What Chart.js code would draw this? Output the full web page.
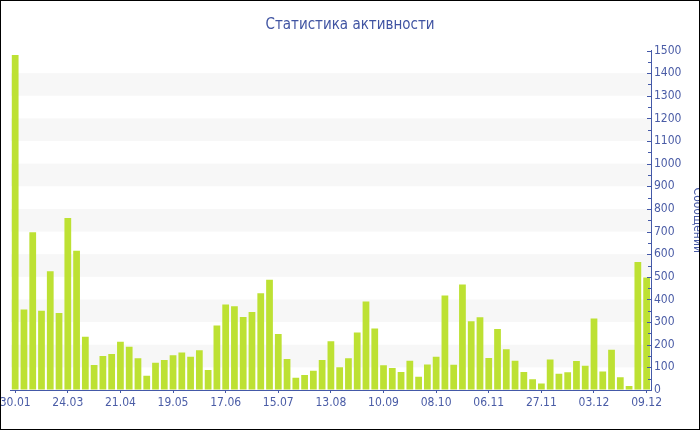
<!DOCTYPE html>
<html><head><meta charset="utf-8">
<script src="https://cdn.jsdelivr.net/npm/chart.js@4"></script>
<style>html,body{margin:0;padding:0;background:#fff}</style>
</head><body>
<canvas id="c" width="700" height="430"></canvas>
<script>
const tickLabels = ['30.01','24.03','21.04','19.05','17.06','15.07','13.08','10.09','08.10','06.11','27.11','03.12','09.12'];
const tickStep = 6;
const messages = [
  1480, 356, 697, 350, 525, 340, 760, 615, 235, 110,
  150, 159, 213, 191, 140, 63, 120, 132, 154, 166,
  147, 176, 88, 285, 378, 370, 323, 345, 428, 487,
  247, 137, 54, 66, 85, 132, 215, 100, 140, 254,
  391, 272, 109, 97, 79, 129, 59, 113, 147, 418,
  112, 466, 304, 321, 141, 270, 180, 129, 79, 47,
  29, 135, 72, 78, 128, 107, 316, 82, 178, 56,
  18, 566, 497
];
const categories = messages.map((_, i) => (i % tickStep === 0 ? tickLabels[i / tickStep] : ''));
const yMin = 0, yMax = 1500, yStep = 100, yMinorStep = 50;
const titleText = 'Статистика активности';
const yTitle = 'Сообщений';

const TXT = '#4a5ca6';
const LINE = '#4459a8';
const FONT = '"DejaVu Sans Condensed", "DejaVu Sans", sans-serif';

const decor = {
  id: 'decor',
  beforeDraw(chart) {
    const { ctx, chartArea: a, scales: { y } } = chart;
    ctx.save();
    ctx.fillStyle = '#f7f7f7';
    for (let v = yMin + yStep; v < yMax; v += 2 * yStep) {
      const t = y.getPixelForValue(v + yStep), b = y.getPixelForValue(v);
      ctx.fillRect(a.left, t, a.right - a.left, b - t);
    }
    ctx.restore();
  },
  afterDraw(chart) {
    const { ctx, chartArea: a, scales: { y } } = chart;
    ctx.save();
    ctx.strokeStyle = LINE;
    ctx.lineWidth = 1;
    for (let v = yMin; v <= yMax; v += yMinorStep) {
      const py = Math.round(y.getPixelForValue(v)) + 0.5;
      const major = v % yStep === 0;
      ctx.beginPath();
      ctx.moveTo(a.right - (major ? 4 : 3), py);
      ctx.lineTo(a.right + (major ? 1 : 0), py);
      ctx.stroke();
    }
    ctx.strokeStyle = '#000';
    ctx.strokeRect(0.5, 0.5, 699, 429);
    ctx.restore();
  }
};

new Chart(document.getElementById('c'), {
  type: 'bar',
  data: {
    labels: categories,
    datasets: [{
      data: messages,
      backgroundColor: '#bde133',
      borderWidth: 0,
      barPercentage: 0.77,
      categoryPercentage: 1
    }]
  },
  options: {
    responsive: false,
    animation: false,
    layout: { padding: { left: 0, right: 0, top: 0, bottom: 0 } },
    plugins: {
      legend: { display: false },
      tooltip: { enabled: false },
      title: {
        display: true, text: titleText, color: '#4054a2',
        font: { family: FONT, size: 15, weight: 'normal' },
        padding: { top: 16, bottom: 16.5 }
      }
    },
    scales: {
      x: {
        grid: {
          display: true, drawOnChartArea: false, offset: false, tickLength: 3,
          color: (c) => (categories[c.index] ? LINE : 'rgba(0,0,0,0)'), lineWidth: 1
        },
        border: { color: LINE, width: 1 },
        ticks: {
          autoSkip: false, maxRotation: 0, minRotation: 0, padding: 3,
          color: TXT, font: { family: FONT, size: 12 },
          callback: (v, i) => categories[i]
        },
        afterFit(s) { s.paddingLeft = 10.8; s.paddingRight = 0; s.height = 40; }
      },
      y: {
        position: 'right', min: yMin, max: yMax,
        grid: { drawOnChartArea: false, drawTicks: false, color: 'rgba(0,0,0,0)' },
        border: { color: LINE, width: 1 },
        ticks: {
          stepSize: yStep, padding: 3, color: TXT, font: { family: FONT, size: 12 },
          callback: (v) => String(v)
        },
        title: {
          display: true, text: yTitle, color: TXT,
          font: { family: FONT, size: 12 }, padding: { top: -4, bottom: 0 }
        },
        afterFit(s) { s.width = 49; }
      }
    }
  },
  plugins: [decor]
});
</script>
</body></html>
